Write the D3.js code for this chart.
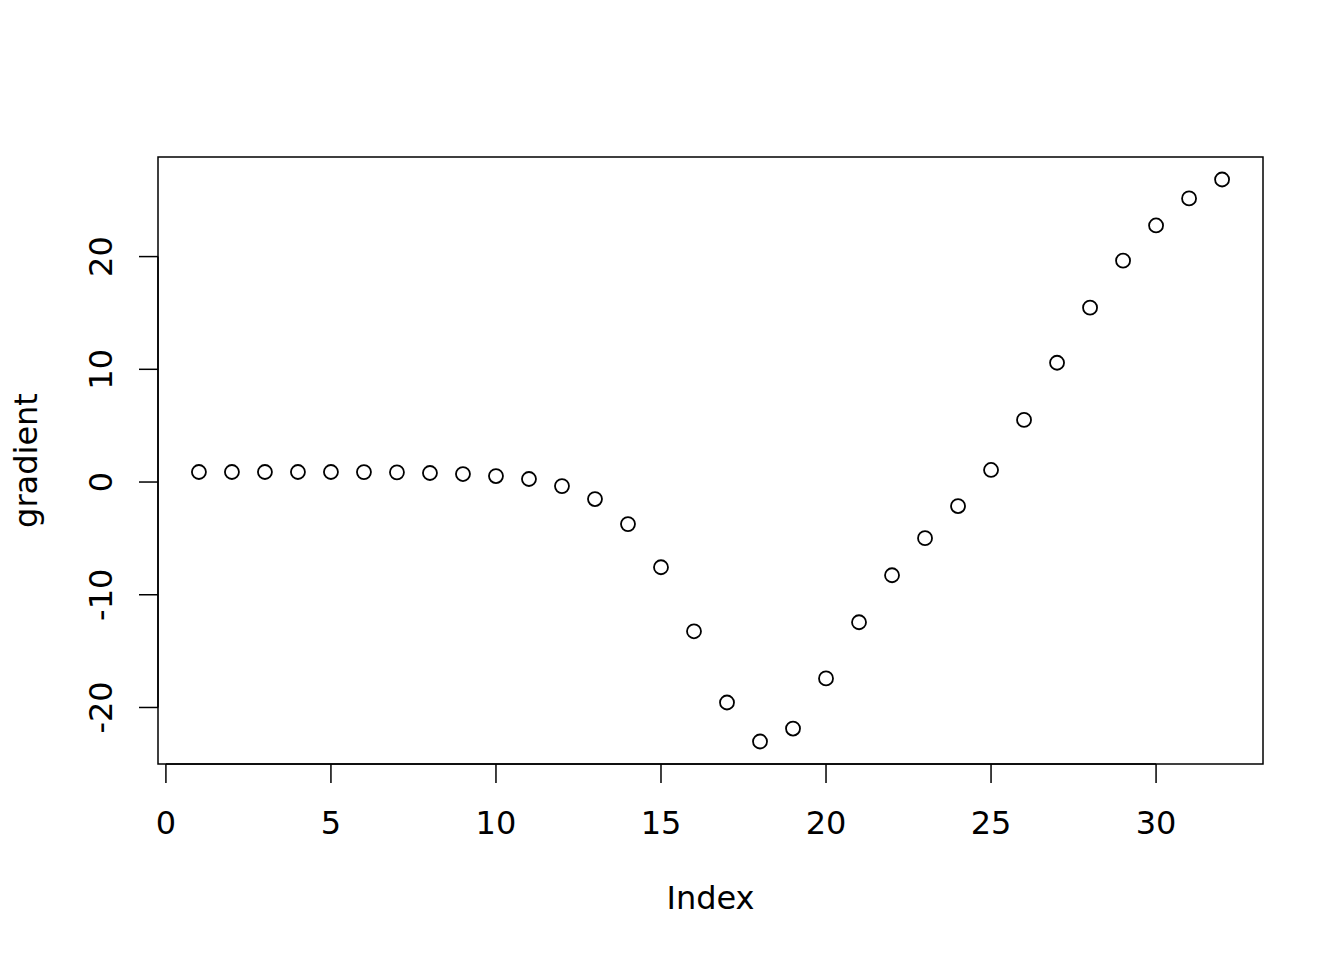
<!DOCTYPE html>
<html>
<head>
<meta charset="utf-8">
<script src="https://cdn.jsdelivr.net/npm/d3@7"></script>
<style>
  body { margin: 0; background: #fff; }
  text { font-family: 'DejaVu Sans', sans-serif; fill: #000; }
</style>
</head>
<body>
<svg id="chart" width="1344" height="960"></svg>
<script>
// data
const index = d3.range(1, 33)
const gradient = [0.89, 0.89, 0.89, 0.89, 0.89, 0.88, 0.86, 0.8, 0.71, 0.53, 0.27, -0.36,
  -1.51, -3.73, -7.56, -13.24, -19.56, -23.02, -21.87, -17.42, -12.44, -8.27, -4.98, -2.13,
  1.07, 5.51, 10.58, 15.47, 19.64, 22.76, 25.16, 26.84]
const xTicks = [0, 5, 10, 15, 20, 25, 30]
const yTicks = [-20, -10, 0, 10, 20]

// layout (R style plot region)
const plotLeft = 158, plotRight = 1263, plotTop = 157, plotBottom = 764
const tickLen = 19
const fontSize = 32

const svg = d3.select('#chart')

// R pads the range by 4% on each side
const pad = (lo, hi) => { const r = (hi - lo) * 0.04; return [lo - r, hi + r] }

const x = d3.scaleLinear().domain(pad(1, 32)).range([plotLeft, plotRight])
const y = d3.scaleLinear().domain(pad(d3.min(gradient), d3.max(gradient))).range([plotBottom, plotTop])

// box
svg.append('rect')
  .attr('x', plotLeft).attr('y', plotTop)
  .attr('width', plotRight - plotLeft).attr('height', plotBottom - plotTop)
  .attr('fill', 'none').attr('stroke', '#000').attr('stroke-width', 1.5)

// x axis
const xAxis = svg.append('g')
xAxis.append('line')
  .attr('x1', x(xTicks[0])).attr('x2', x(xTicks[xTicks.length - 1]))
  .attr('y1', plotBottom).attr('y2', plotBottom)
  .attr('stroke', '#000').attr('stroke-width', 1.5)
xAxis.selectAll('.tick').data(xTicks).enter().append('line')
  .attr('x1', d => x(d)).attr('x2', d => x(d))
  .attr('y1', plotBottom).attr('y2', plotBottom + tickLen)
  .attr('stroke', '#000').attr('stroke-width', 1.5)
xAxis.selectAll('.lab').data(xTicks).enter().append('text')
  .attr('x', d => x(d)).attr('y', 834)
  .attr('text-anchor', 'middle')
  .style('font-size', fontSize + 'px')
  .text(d => d)

// y axis
const yAxis = svg.append('g')
yAxis.append('line')
  .attr('x1', plotLeft).attr('x2', plotLeft)
  .attr('y1', y(yTicks[0])).attr('y2', y(yTicks[yTicks.length - 1]))
  .attr('stroke', '#000').attr('stroke-width', 1.5)
yAxis.selectAll('.tick').data(yTicks).enter().append('line')
  .attr('x1', plotLeft - tickLen).attr('x2', plotLeft)
  .attr('y1', d => y(d)).attr('y2', d => y(d))
  .attr('stroke', '#000').attr('stroke-width', 1.5)
yAxis.selectAll('.lab').data(yTicks).enter().append('text')
  .attr('transform', d => `translate(112,${y(d)}) rotate(-90)`)
  .attr('text-anchor', 'middle')
  .style('font-size', fontSize + 'px')
  .text(d => d)

// axis titles
svg.append('text')
  .attr('x', (plotLeft + plotRight) / 2).attr('y', 909)
  .attr('text-anchor', 'middle')
  .style('font-size', fontSize + 'px')
  .text('Index')

svg.append('text')
  .attr('transform', `translate(37,${(plotTop + plotBottom) / 2}) rotate(-90)`)
  .attr('text-anchor', 'middle')
  .style('font-size', fontSize + 'px')
  .text('gradient')

// points
svg.append('g').selectAll('circle')
  .data(gradient)
  .enter()
  .append('circle')
  .attr('cx', (d, i) => x(index[i]))
  .attr('cy', d => y(d))
  .attr('r', 7)
  .attr('fill', 'none')
  .attr('stroke', '#000')
  .attr('stroke-width', 1.8)
</script>
</body>
</html>
